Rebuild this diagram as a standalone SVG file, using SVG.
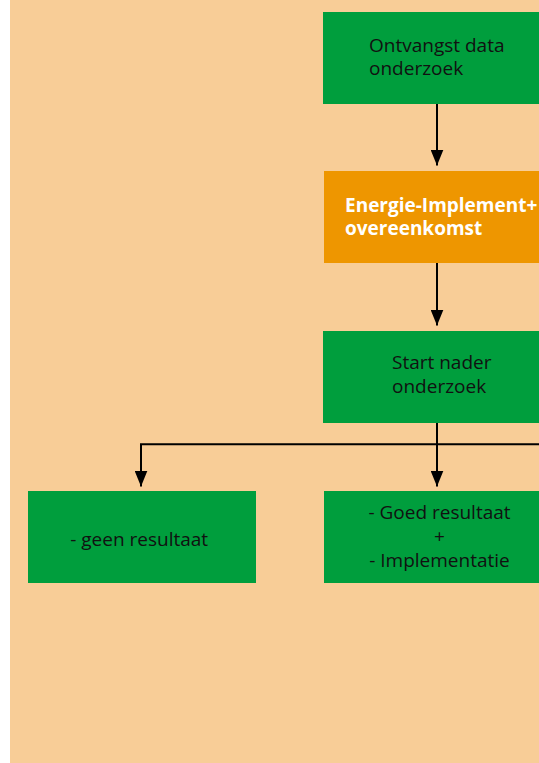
<svg xmlns="http://www.w3.org/2000/svg" width="539" height="763" viewBox="0 0 539 763">
  <style>
    .bg { fill: #F8CD97; }
    .green { fill: #009E3D; }
    .orange { fill: #EE9600; }
    .lbl { font-family: "Open Sans", "Noto Sans", "Liberation Sans", sans-serif; font-size: 19px; fill: #111111; }
    .lblw { font-family: "Open Sans", "Noto Sans", "Liberation Sans", sans-serif; font-size: 19px; font-weight: bold; fill: #FFFFFF; }
    .mid { text-anchor: middle; }
    .conn { fill: none; stroke: #000000; stroke-width: 2; }
  </style>
  <defs>
    <marker id="arrow" viewBox="0 0 16 13" refX="16" refY="6.5" markerWidth="16" markerHeight="13" markerUnits="userSpaceOnUse" orient="auto">
      <path d="M0,0 L16,6.5 L0,13 z" fill="#000000"/>
    </marker>
  </defs>
  <rect x="0" y="0" width="539" height="763" fill="#FFFFFF"/>
  <rect class="bg" x="10" y="0" width="529" height="763"/>

  <g id="connectors">
    <path class="conn" d="M437,104 V165.5" marker-end="url(#arrow)"/>
    <path class="conn" d="M437,263 V325.5" marker-end="url(#arrow)"/>
    <path class="conn" d="M437,423 V486.5" marker-end="url(#arrow)"/>
    <path class="conn" d="M545,444.3 H141 V486.5" marker-end="url(#arrow)"/>
  </g>

  <g id="node-ontvangst">
    <rect class="green" x="323" y="12" width="222" height="92"/>
    <text class="lbl" x="369" y="52.3">Ontvangst data</text>
    <text class="lbl" x="369" y="75">onderzoek</text>
  </g>

  <g id="node-energie">
    <rect class="orange" x="324" y="171" width="221" height="92"/>
    <text class="lblw" x="345" y="212.3">Energie-Implement+</text>
    <text class="lblw" x="345" y="235">overeenkomst</text>
  </g>

  <g id="node-start">
    <rect class="green" x="323" y="331" width="222" height="92"/>
    <text class="lbl" x="392" y="369.3">Start nader</text>
    <text class="lbl" x="392" y="393">onderzoek</text>
  </g>

  <g id="node-geen">
    <rect class="green" x="28" y="491" width="228" height="92"/>
    <text class="lbl mid" x="139.2" y="545.5">- geen resultaat</text>
  </g>

  <g id="node-goed">
    <rect class="green" x="324" y="491" width="221" height="92"/>
    <text class="lbl mid" x="439.5" y="519">- Goed resultaat</text>
    <text class="lbl mid" x="439.5" y="543">+</text>
    <text class="lbl mid" x="439.5" y="567">- Implementatie</text>
  </g>
</svg>
